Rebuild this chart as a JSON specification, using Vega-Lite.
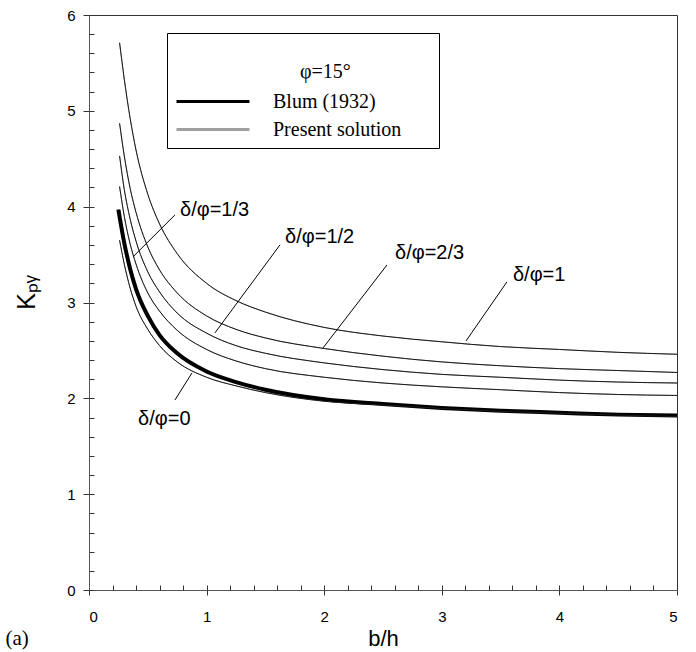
{
  "$schema": "https://vega.github.io/schema/vega-lite/v6.json",
  "width": 588,
  "height": 575,
  "autosize": {"type": "none"},
  "padding": {"left": 89, "top": 15, "right": 19, "bottom": 62},
  "background": "white",
  "config": {
    "view": {"stroke": "#333", "strokeWidth": 1},
    "axis": {
      "grid": false,
      "labelFont": "Liberation Sans",
      "titleFont": "Liberation Sans",
      "labelColor": "black",
      "titleColor": "black",
      "labelFontSize": 15,
      "domainColor": "#555",
      "tickColor": "#333",
      "titleFontWeight": "normal"
    }
  },
  "datasets": {
    "curves": [
      {"b": 0.26, "K": 5.71, "curve": "δ/φ=1", "source": "Present solution"},
      {"b": 0.3, "K": 5.33, "curve": "δ/φ=1", "source": "Present solution"},
      {"b": 0.35, "K": 4.92, "curve": "δ/φ=1", "source": "Present solution"},
      {"b": 0.4, "K": 4.59, "curve": "δ/φ=1", "source": "Present solution"},
      {"b": 0.5, "K": 4.13, "curve": "δ/φ=1", "source": "Present solution"},
      {"b": 0.6, "K": 3.82, "curve": "δ/φ=1", "source": "Present solution"},
      {"b": 0.75, "K": 3.51, "curve": "δ/φ=1", "source": "Present solution"},
      {"b": 1.0, "K": 3.2, "curve": "δ/φ=1", "source": "Present solution"},
      {"b": 1.25, "K": 3.02, "curve": "δ/φ=1", "source": "Present solution"},
      {"b": 1.5, "K": 2.9, "curve": "δ/φ=1", "source": "Present solution"},
      {"b": 2.0, "K": 2.74, "curve": "δ/φ=1", "source": "Present solution"},
      {"b": 2.5, "K": 2.65, "curve": "δ/φ=1", "source": "Present solution"},
      {"b": 3.0, "K": 2.59, "curve": "δ/φ=1", "source": "Present solution"},
      {"b": 3.5, "K": 2.54, "curve": "δ/φ=1", "source": "Present solution"},
      {"b": 4.0, "K": 2.51, "curve": "δ/φ=1", "source": "Present solution"},
      {"b": 4.5, "K": 2.48, "curve": "δ/φ=1", "source": "Present solution"},
      {"b": 5.0, "K": 2.46, "curve": "δ/φ=1", "source": "Present solution"},

      {"b": 0.26, "K": 4.87, "curve": "δ/φ=2/3", "source": "Present solution"},
      {"b": 0.3, "K": 4.53, "curve": "δ/φ=2/3", "source": "Present solution"},
      {"b": 0.35, "K": 4.19, "curve": "δ/φ=2/3", "source": "Present solution"},
      {"b": 0.4, "K": 3.94, "curve": "δ/φ=2/3", "source": "Present solution"},
      {"b": 0.5, "K": 3.58, "curve": "δ/φ=2/3", "source": "Present solution"},
      {"b": 0.6, "K": 3.34, "curve": "δ/φ=2/3", "source": "Present solution"},
      {"b": 0.75, "K": 3.1, "curve": "δ/φ=2/3", "source": "Present solution"},
      {"b": 1.0, "K": 2.86, "curve": "δ/φ=2/3", "source": "Present solution"},
      {"b": 1.25, "K": 2.72, "curve": "δ/φ=2/3", "source": "Present solution"},
      {"b": 1.5, "K": 2.63, "curve": "δ/φ=2/3", "source": "Present solution"},
      {"b": 2.0, "K": 2.52, "curve": "δ/φ=2/3", "source": "Present solution"},
      {"b": 2.5, "K": 2.44, "curve": "δ/φ=2/3", "source": "Present solution"},
      {"b": 3.0, "K": 2.38, "curve": "δ/φ=2/3", "source": "Present solution"},
      {"b": 3.5, "K": 2.34, "curve": "δ/φ=2/3", "source": "Present solution"},
      {"b": 4.0, "K": 2.31, "curve": "δ/φ=2/3", "source": "Present solution"},
      {"b": 4.5, "K": 2.29, "curve": "δ/φ=2/3", "source": "Present solution"},
      {"b": 5.0, "K": 2.27, "curve": "δ/φ=2/3", "source": "Present solution"},

      {"b": 0.26, "K": 4.53, "curve": "δ/φ=1/2", "source": "Present solution"},
      {"b": 0.3, "K": 4.18, "curve": "δ/φ=1/2", "source": "Present solution"},
      {"b": 0.35, "K": 3.87, "curve": "δ/φ=1/2", "source": "Present solution"},
      {"b": 0.4, "K": 3.64, "curve": "δ/φ=1/2", "source": "Present solution"},
      {"b": 0.5, "K": 3.32, "curve": "δ/φ=1/2", "source": "Present solution"},
      {"b": 0.6, "K": 3.11, "curve": "δ/φ=1/2", "source": "Present solution"},
      {"b": 0.75, "K": 2.89, "curve": "δ/φ=1/2", "source": "Present solution"},
      {"b": 1.0, "K": 2.68, "curve": "δ/φ=1/2", "source": "Present solution"},
      {"b": 1.25, "K": 2.55, "curve": "δ/φ=1/2", "source": "Present solution"},
      {"b": 1.5, "K": 2.47, "curve": "δ/φ=1/2", "source": "Present solution"},
      {"b": 2.0, "K": 2.37, "curve": "δ/φ=1/2", "source": "Present solution"},
      {"b": 2.5, "K": 2.3, "curve": "δ/φ=1/2", "source": "Present solution"},
      {"b": 3.0, "K": 2.25, "curve": "δ/φ=1/2", "source": "Present solution"},
      {"b": 3.5, "K": 2.22, "curve": "δ/φ=1/2", "source": "Present solution"},
      {"b": 4.0, "K": 2.19, "curve": "δ/φ=1/2", "source": "Present solution"},
      {"b": 4.5, "K": 2.17, "curve": "δ/φ=1/2", "source": "Present solution"},
      {"b": 5.0, "K": 2.16, "curve": "δ/φ=1/2", "source": "Present solution"},

      {"b": 0.26, "K": 4.21, "curve": "δ/φ=1/3", "source": "Present solution"},
      {"b": 0.3, "K": 3.9, "curve": "δ/φ=1/3", "source": "Present solution"},
      {"b": 0.35, "K": 3.61, "curve": "δ/φ=1/3", "source": "Present solution"},
      {"b": 0.4, "K": 3.4, "curve": "δ/φ=1/3", "source": "Present solution"},
      {"b": 0.5, "K": 3.1, "curve": "δ/φ=1/3", "source": "Present solution"},
      {"b": 0.6, "K": 2.91, "curve": "δ/φ=1/3", "source": "Present solution"},
      {"b": 0.75, "K": 2.71, "curve": "δ/φ=1/3", "source": "Present solution"},
      {"b": 1.0, "K": 2.51, "curve": "δ/φ=1/3", "source": "Present solution"},
      {"b": 1.25, "K": 2.39, "curve": "δ/φ=1/3", "source": "Present solution"},
      {"b": 1.5, "K": 2.31, "curve": "δ/φ=1/3", "source": "Present solution"},
      {"b": 2.0, "K": 2.22, "curve": "δ/φ=1/3", "source": "Present solution"},
      {"b": 2.5, "K": 2.16, "curve": "δ/φ=1/3", "source": "Present solution"},
      {"b": 3.0, "K": 2.12, "curve": "δ/φ=1/3", "source": "Present solution"},
      {"b": 3.5, "K": 2.09, "curve": "δ/φ=1/3", "source": "Present solution"},
      {"b": 4.0, "K": 2.06, "curve": "δ/φ=1/3", "source": "Present solution"},
      {"b": 4.5, "K": 2.04, "curve": "δ/φ=1/3", "source": "Present solution"},
      {"b": 5.0, "K": 2.03, "curve": "δ/φ=1/3", "source": "Present solution"},

      {"b": 0.25, "K": 3.97, "curve": "Blum", "source": "Blum (1932)"},
      {"b": 0.3, "K": 3.62, "curve": "Blum", "source": "Blum (1932)"},
      {"b": 0.35, "K": 3.35, "curve": "Blum", "source": "Blum (1932)"},
      {"b": 0.4, "K": 3.14, "curve": "Blum", "source": "Blum (1932)"},
      {"b": 0.5, "K": 2.86, "curve": "Blum", "source": "Blum (1932)"},
      {"b": 0.6, "K": 2.66, "curve": "Blum", "source": "Blum (1932)"},
      {"b": 0.75, "K": 2.47, "curve": "Blum", "source": "Blum (1932)"},
      {"b": 1.0, "K": 2.28, "curve": "Blum", "source": "Blum (1932)"},
      {"b": 1.25, "K": 2.17, "curve": "Blum", "source": "Blum (1932)"},
      {"b": 1.5, "K": 2.09, "curve": "Blum", "source": "Blum (1932)"},
      {"b": 2.0, "K": 1.99, "curve": "Blum", "source": "Blum (1932)"},
      {"b": 2.5, "K": 1.94, "curve": "Blum", "source": "Blum (1932)"},
      {"b": 3.0, "K": 1.9, "curve": "Blum", "source": "Blum (1932)"},
      {"b": 3.5, "K": 1.87, "curve": "Blum", "source": "Blum (1932)"},
      {"b": 4.0, "K": 1.85, "curve": "Blum", "source": "Blum (1932)"},
      {"b": 4.5, "K": 1.83, "curve": "Blum", "source": "Blum (1932)"},
      {"b": 5.0, "K": 1.82, "curve": "Blum", "source": "Blum (1932)"},

      {"b": 0.26, "K": 3.65, "curve": "δ/φ=0", "source": "Present solution"},
      {"b": 0.3, "K": 3.4, "curve": "δ/φ=0", "source": "Present solution"},
      {"b": 0.35, "K": 3.15, "curve": "δ/φ=0", "source": "Present solution"},
      {"b": 0.4, "K": 2.96, "curve": "δ/φ=0", "source": "Present solution"},
      {"b": 0.5, "K": 2.72, "curve": "δ/φ=0", "source": "Present solution"},
      {"b": 0.6, "K": 2.55, "curve": "δ/φ=0", "source": "Present solution"},
      {"b": 0.75, "K": 2.38, "curve": "δ/φ=0", "source": "Present solution"},
      {"b": 1.0, "K": 2.22, "curve": "δ/φ=0", "source": "Present solution"},
      {"b": 1.25, "K": 2.13, "curve": "δ/φ=0", "source": "Present solution"},
      {"b": 1.5, "K": 2.06, "curve": "δ/φ=0", "source": "Present solution"},
      {"b": 2.0, "K": 1.97, "curve": "δ/φ=0", "source": "Present solution"},
      {"b": 2.5, "K": 1.93, "curve": "δ/φ=0", "source": "Present solution"},
      {"b": 3.0, "K": 1.895, "curve": "δ/φ=0", "source": "Present solution"},
      {"b": 3.5, "K": 1.865, "curve": "δ/φ=0", "source": "Present solution"},
      {"b": 4.0, "K": 1.845, "curve": "δ/φ=0", "source": "Present solution"},
      {"b": 4.5, "K": 1.825, "curve": "δ/φ=0", "source": "Present solution"},
      {"b": 5.0, "K": 1.81, "curve": "δ/φ=0", "source": "Present solution"}
    ],
    "leaders": [
      {"x": 0.731, "y": 3.914, "x2": 0.374, "y2": 3.476},
      {"x": 1.624, "y": 3.601, "x2": 1.071, "y2": 2.683},
      {"x": 2.534, "y": 3.392, "x2": 1.99, "y2": 2.526},
      {"x": 3.554, "y": 3.215, "x2": 3.206, "y2": 2.599},
      {"x": 0.731, "y": 1.983, "x2": 0.876, "y2": 2.265}
    ],
    "labels": [
      {"x": 0.774, "y": 3.967, "label": "δ/φ=1/3"},
      {"x": 1.667, "y": 3.685, "label": "δ/φ=1/2"},
      {"x": 2.602, "y": 3.518, "label": "δ/φ=2/3"},
      {"x": 3.605, "y": 3.288, "label": "δ/φ=1"},
      {"x": 0.417, "y": 1.785, "label": "δ/φ=0"}
    ]
  },
  "resolve": {"axis": {"x": "independent", "y": "independent"}},
  "layer": [
    {
      "data": {"name": "curves"},
      "transform": [{"filter": "datum.source === 'Present solution'"}],
      "mark": {"type": "line", "interpolate": "monotone", "strokeWidth": 1},
      "encoding": {
        "x": {
          "field": "b", "type": "quantitative",
          "scale": {"domain": [0, 5], "nice": false, "zero": false},
          "axis": {
            "orient": "bottom", "values": [0, 1, 2, 3, 4, 5], "tickSize": 5,
            "labelPadding": 14, "labelFontSize": 15, "title": "b/h", "titleFontSize": 22,
            "titleBaseline": "middle", "titleY": 48
          }
        },
        "y": {
          "field": "K", "type": "quantitative",
          "scale": {"domain": [0, 6], "nice": false, "zero": false},
          "axis": {
            "orient": "left", "values": [0, 1, 2, 3, 4, 5, 6], "tickSize": 6,
            "labelPadding": 8, "labelFontSize": 15, "title": "Kₚᵧ", "titleFontSize": 25,
            "titleX": -63, "titleY": 277, "titleAlign": "center", "titleBaseline": "middle"
          }
        },
        "detail": {"field": "curve"},
        "color": {
          "field": "source", "type": "nominal",
          "scale": {"domain": ["Blum (1932)", "Present solution"], "range": ["#000000", "#a0a0a0"]},
          "legend": {
            "orient": "none", "legendX": 78, "legendY": 18,
            "title": ["\u200b", "\u200b\u00a0\u00a0\u00a0\u00a0\u00a0\u00a0\u00a0\u00a0\u00a0\u00a0\u00a0\u00a0\u00a0\u00a0\u00a0\u00a0\u00a0\u00a0\u00a0\u00a0\u00a0\u00a0\u00a0\u00a0\u00a0φ=15°\u00a0\u00a0\u00a0\u00a0\u00a0\u00a0\u00a0\u00a0\u00a0\u00a0\u00a0\u00a0\u00a0\u00a0\u00a0\u00a0\u200b"],
            "titleFont": "Liberation Serif", "titleFontSize": 20, "titleFontWeight": "normal",
            "titleColor": "black", "titleAnchor": "start", "titleLineHeight": 21, "titlePadding": 2,
            "titleLimit": 400,
            "labelFont": "Liberation Serif", "labelFontSize": 20, "labelColor": "black",
            "labelOffset": 63,
            "symbolType": "M-1,0H3.56", "symbolSize": 1024, "symbolStrokeWidth": 3,
            "padding": 8, "rowPadding": 0,
            "strokeColor": "black", "fillColor": "white"
          }
        }
      }
    },
    {
      "data": {"name": "curves"},
      "transform": [{"filter": "datum.source === 'Blum (1932)'"}],
      "mark": {"type": "line", "interpolate": "monotone", "strokeWidth": 4},
      "encoding": {
        "x": {"field": "b", "type": "quantitative", "scale": {"domain": [0, 5], "nice": false, "zero": false}, "axis": null},
        "y": {"field": "K", "type": "quantitative", "scale": {"domain": [0, 6], "nice": false, "zero": false}, "axis": null},
        "detail": {"field": "curve"},
        "color": {"field": "source", "type": "nominal"}
      }
    },
    {
      "data": {"name": "curves"},
      "transform": [{"filter": "datum.source === 'Present solution'"}],
      "mark": {"type": "line", "interpolate": "monotone", "strokeWidth": 1, "color": "#1a1a1a"},
      "encoding": {
        "x": {"field": "b", "type": "quantitative", "scale": {"domain": [0, 5], "nice": false, "zero": false}, "axis": null},
        "y": {"field": "K", "type": "quantitative", "scale": {"domain": [0, 6], "nice": false, "zero": false}, "axis": null},
        "detail": {"field": "curve"}
      }
    },
    {
      "data": {"name": "leaders"},
      "mark": {"type": "rule", "color": "black", "strokeWidth": 1},
      "encoding": {
        "x": {
          "field": "x", "type": "quantitative",
          "scale": {"domain": [0, 5], "nice": false, "zero": false},
          "axis": {
            "orient": "bottom",
            "values": [0, 0.2, 0.4, 0.6, 0.8, 1, 1.2, 1.4, 1.6, 1.8, 2, 2.2, 2.4, 2.6, 2.8, 3, 3.2, 3.4, 3.6, 3.8, 4, 4.2, 4.4, 4.6, 4.8, 5],
            "tickSize": -5, "labels": false, "domain": false,
            "title": "(a)", "titleFont": "Liberation Serif", "titleFontSize": 21,
            "titleX": -84, "titleY": 48, "titleAlign": "left", "titleBaseline": "middle", "titleAngle": 0
          }
        },
        "y": {
          "field": "y", "type": "quantitative",
          "scale": {"domain": [0, 6], "nice": false, "zero": false},
          "axis": {
            "orient": "left",
            "values": [0, 0.2, 0.4, 0.6, 0.8, 1, 1.2, 1.4, 1.6, 1.8, 2, 2.2, 2.4, 2.6, 2.8, 3, 3.2, 3.4, 3.6, 3.8, 4, 4.2, 4.4, 4.6, 4.8, 5, 5.2, 5.4, 5.6, 5.8, 6],
            "tickSize": -5, "labels": false, "domain": false, "title": null
          }
        },
        "x2": {"field": "x2"},
        "y2": {"field": "y2"}
      }
    },
    {
      "data": {"name": "labels"},
      "mark": {"type": "text", "align": "left", "baseline": "middle", "font": "Liberation Sans", "fontSize": 20, "color": "black"},
      "encoding": {
        "x": {"field": "x", "type": "quantitative", "scale": {"domain": [0, 5], "nice": false, "zero": false}, "axis": null},
        "y": {"field": "y", "type": "quantitative", "scale": {"domain": [0, 6], "nice": false, "zero": false}, "axis": null},
        "text": {"field": "label"}
      }
    }
  ]
}
